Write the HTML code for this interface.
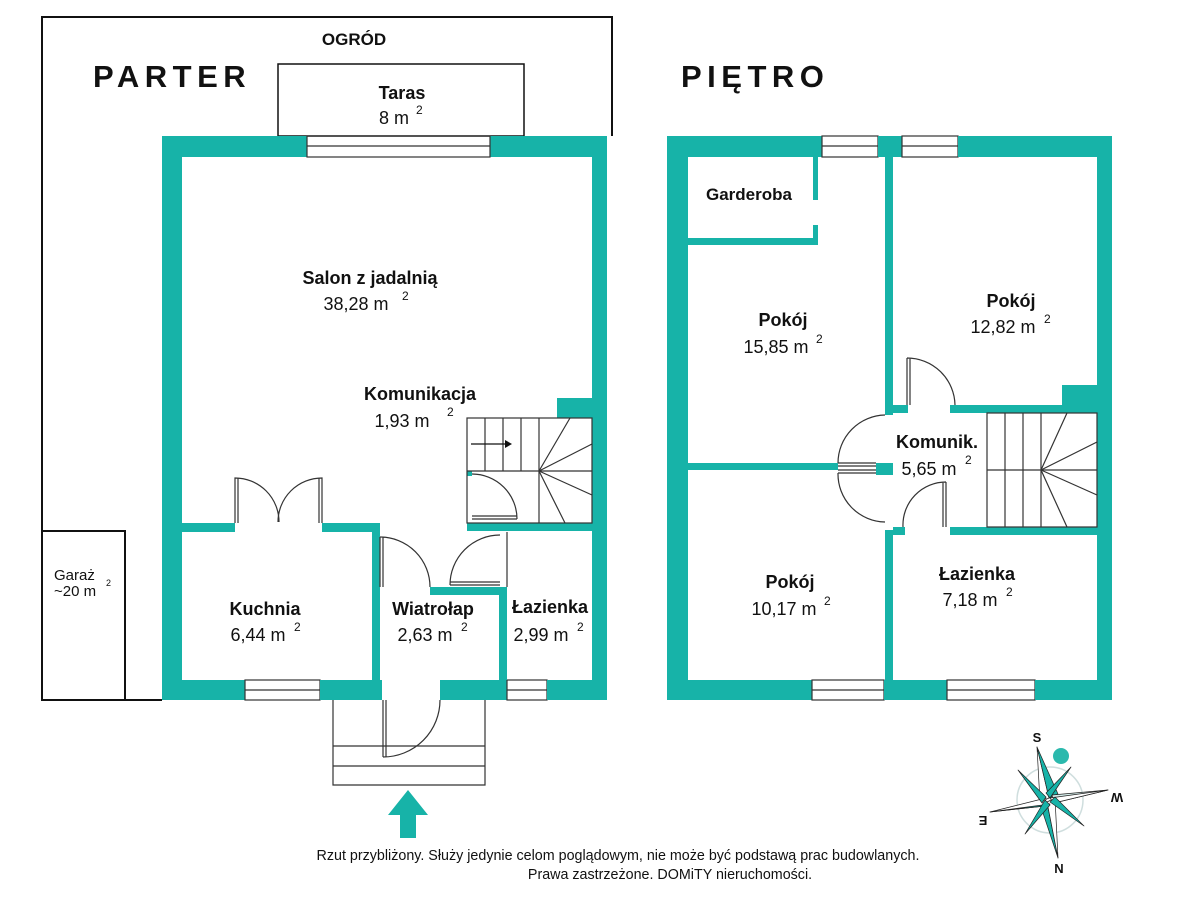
<!DOCTYPE html>
<html><head><meta charset="utf-8"><style>
html,body{margin:0;padding:0;background:#fff}
svg{display:block}
text{font-family:"Liberation Sans",sans-serif;fill:#111}
.b{font-weight:bold}
</style></head><body>
<svg width="1200" height="900" viewBox="0 0 1200 900" xmlns="http://www.w3.org/2000/svg">
<defs><style>.w{fill:#17b3a8}.l{fill:none;stroke:#333;stroke-width:1.2}.k{fill:none;stroke:#111;stroke-width:2}</style></defs>

<path class="k" d="M42 700 V17 H612 V136"/>
<rect class="k" x="42" y="531" width="83" height="169"/>
<line class="k" x1="125" y1="700" x2="162" y2="700"/>
<rect class="k" x="278" y="64" width="246" height="72" style="stroke-width:1.5"/>

<text x="354" y="45" font-size="17" class="b" text-anchor="middle">OGRÓD</text>
<text x="93" y="87" font-size="31" class="b" letter-spacing="5.5">PARTER</text>
<text x="681" y="87" font-size="31" class="b" letter-spacing="5.5">PIĘTRO</text>
<text x="402" y="99" font-size="18" class="b" text-anchor="middle">Taras</text>
<text x="394" y="124" font-size="18" text-anchor="middle">8 m</text><text x="416" y="114" font-size="12">2</text>
<text x="54" y="580" font-size="15">Garaż</text>
<text x="54" y="596" font-size="15">~20 m</text><text x="106" y="586" font-size="9">2</text>

<rect class="w" x="162" y="136" width="145" height="21"/>
<rect class="w" x="490" y="136" width="117" height="21"/>
<rect class="l" x="307" y="136" width="183" height="21"/><line class="l" x1="307" y1="146" x2="490" y2="146"/>
<rect class="w" x="162" y="136" width="20" height="564"/>
<rect class="w" x="592" y="136" width="15" height="564"/>
<rect class="w" x="162" y="680" width="83" height="20"/>
<rect class="l" x="245" y="680" width="75" height="20"/><line class="l" x1="245" y1="690" x2="320" y2="690"/>
<rect class="w" x="320" y="680" width="62" height="20"/>
<rect class="w" x="440" y="680" width="67" height="20"/>
<rect class="l" x="507" y="680" width="40" height="20"/><line class="l" x1="507" y1="690" x2="547" y2="690"/>
<rect class="w" x="547" y="680" width="50" height="20"/>
<rect class="w" x="182" y="523" width="53" height="9"/>
<rect class="w" x="322" y="523" width="58" height="9"/>
<rect class="w" x="372" y="523" width="8" height="157"/>
<path class="l" d="M235 523 V478 A44 44 0 0 1 279 522"/><line class="l" x1="238" y1="478" x2="238" y2="523"/>
<path class="l" d="M322 523 V478 A44 44 0 0 0 278 522"/><line class="l" x1="319" y1="478" x2="319" y2="523"/>
<rect class="w" x="430" y="587" width="77" height="8"/>
<rect class="w" x="499" y="587" width="8" height="93"/>
<path class="l" d="M380 537 V587 M383 537 V587 M380 537 A50 50 0 0 1 430 587"/>
<path class="l" d="M450 585 A50 50 0 0 1 500 535 M450 585 H500 M450 582 H500"/>
<line class="l" x1="507" y1="532" x2="507" y2="587"/>
<rect class="w" x="557" y="398" width="40" height="20"/>
<rect class="w" x="467" y="523" width="130" height="8"/>
<rect class="w" x="467" y="471" width="5" height="5"/>
<g class="l">
<rect x="467" y="418" width="125" height="105"/>
<line x1="485" y1="418" x2="485" y2="471"/><line x1="503" y1="418" x2="503" y2="471"/><line x1="521" y1="418" x2="521" y2="471"/><line x1="539" y1="418" x2="539" y2="523"/>
<line x1="467" y1="471" x2="592" y2="471"/>
<line x1="539" y1="471" x2="592" y2="444"/><line x1="539" y1="471" x2="570" y2="418"/><line x1="539" y1="471" x2="592" y2="495"/><line x1="539" y1="471" x2="565" y2="523"/>
<path d="M472 474 A45 45 0 0 1 517 519 M472 519 H517 M472 516 H517"/>
</g>
<line x1="471" y1="444" x2="505" y2="444" stroke="#111" stroke-width="1.2"/><path d="M505 440 L512 444 L505 448Z" fill="#111"/>
<g class="l">
<path d="M333 700 V785 H485 V700 M333 746 H485 M333 766 H485"/>
<path d="M383 700 V757 M386 700 V757 M383 757 A57 57 0 0 0 440 700"/>
</g>
<path class="w" d="M408 790 L428 815 L416 815 L416 838 L400 838 L400 815 L388 815Z"/>

<text x="370" y="284" font-size="18" class="b" text-anchor="middle">Salon z jadalnią</text>
<text x="356" y="310" font-size="18" text-anchor="middle">38,28 m</text><text x="402" y="300" font-size="12">2</text>
<text x="420" y="400" font-size="18" class="b" text-anchor="middle">Komunikacja</text>
<text x="402" y="427" font-size="18" text-anchor="middle">1,93 m</text><text x="447" y="416" font-size="12">2</text>
<text x="265" y="615" font-size="18" class="b" text-anchor="middle">Kuchnia</text>
<text x="258" y="641" font-size="18" text-anchor="middle">6,44 m</text><text x="294" y="631" font-size="12">2</text>
<text x="433" y="615" font-size="18" class="b" text-anchor="middle">Wiatrołap</text>
<text x="425" y="641" font-size="18" text-anchor="middle">2,63 m</text><text x="461" y="631" font-size="12">2</text>
<text x="550" y="613" font-size="18" class="b" text-anchor="middle">Łazienka</text>
<text x="541" y="641" font-size="18" text-anchor="middle">2,99 m</text><text x="577" y="631" font-size="12">2</text>

<rect class="w" x="667" y="136" width="155" height="21"/>
<rect class="l" x="822" y="136" width="56" height="21"/><line class="l" x1="822" y1="146" x2="878" y2="146"/>
<rect class="w" x="878" y="136" width="24" height="21"/>
<rect class="l" x="902" y="136" width="56" height="21"/><line class="l" x1="902" y1="146" x2="958" y2="146"/>
<rect class="w" x="958" y="136" width="154" height="21"/>
<rect class="w" x="667" y="136" width="21" height="564"/>
<rect class="w" x="1097" y="136" width="15" height="564"/>
<rect class="w" x="667" y="680" width="145" height="20"/>
<rect class="l" x="812" y="680" width="72" height="20"/><line class="l" x1="812" y1="690" x2="884" y2="690"/>
<rect class="w" x="884" y="680" width="63" height="20"/>
<rect class="l" x="947" y="680" width="88" height="20"/><line class="l" x1="947" y1="690" x2="1035" y2="690"/>
<rect class="w" x="1035" y="680" width="77" height="20"/>
<rect class="w" x="688" y="238" width="130" height="7"/>
<rect class="w" x="813" y="157" width="5" height="43"/>
<rect class="w" x="813" y="225" width="5" height="20"/>
<rect class="w" x="885" y="157" width="8" height="258"/>
<rect class="w" x="885" y="530" width="8" height="150"/>
<rect class="w" x="688" y="463" width="150" height="7"/>
<rect class="w" x="876" y="463" width="17" height="12"/>
<rect class="w" x="893" y="405" width="15" height="8"/>
<rect class="w" x="950" y="405" width="147" height="8"/>
<rect class="w" x="1062" y="385" width="35" height="22"/>
<rect class="w" x="893" y="527" width="12" height="8"/>
<rect class="w" x="950" y="527" width="147" height="8"/>
<g class="l">
<path d="M907 405 V358 M910 405 V358 M907 358 A48 48 0 0 1 955 405"/>
<path d="M838 463 A48 48 0 0 1 885 415 M838 463 H876 M838 466 H876"/>
<path d="M838 473 A48 48 0 0 0 885 522 M838 473 H876 M838 470 H876"/>
<path d="M946 482 V527 M943 482 V527 M946 482 A43 43 0 0 0 903 527"/>
<rect x="987" y="413" width="110" height="114"/>
<line x1="1005" y1="413" x2="1005" y2="527"/><line x1="1023" y1="413" x2="1023" y2="527"/><line x1="1041" y1="413" x2="1041" y2="527"/>
<line x1="987" y1="470" x2="1097" y2="470"/>
<line x1="1041" y1="470" x2="1067" y2="413"/><line x1="1041" y1="470" x2="1097" y2="442"/><line x1="1041" y1="470" x2="1097" y2="495"/><line x1="1041" y1="470" x2="1067" y2="527"/>
</g>
<text x="749" y="200" font-size="17" class="b" text-anchor="middle">Garderoba</text>
<text x="783" y="326" font-size="18" class="b" text-anchor="middle">Pokój</text>
<text x="776" y="353" font-size="18" text-anchor="middle">15,85 m</text><text x="816" y="343" font-size="12">2</text>
<text x="1011" y="307" font-size="18" class="b" text-anchor="middle">Pokój</text>
<text x="1003" y="333" font-size="18" text-anchor="middle">12,82 m</text><text x="1044" y="323" font-size="12">2</text>
<text x="937" y="448" font-size="18" class="b" text-anchor="middle">Komunik.</text>
<text x="929" y="475" font-size="18" text-anchor="middle">5,65 m</text><text x="965" y="464" font-size="12">2</text>
<text x="790" y="588" font-size="18" class="b" text-anchor="middle">Pokój</text>
<text x="784" y="615" font-size="18" text-anchor="middle">10,17 m</text><text x="824" y="605" font-size="12">2</text>
<text x="977" y="580" font-size="18" class="b" text-anchor="middle">Łazienka</text>
<text x="970" y="606" font-size="18" text-anchor="middle">7,18 m</text><text x="1006" y="596" font-size="12">2</text>

<!-- compass -->
<circle cx="1050" cy="800" r="33" fill="none" stroke="#cfdede" stroke-width="1.5"/>
<circle cx="1061" cy="756" r="8" fill="#2bb9ad"/>
<g stroke="#222" stroke-width="0.7" stroke-linejoin="round">
<path d="M1037 747 L1049 798 L1040 802Z" fill="#fff"/><path d="M1037 747 L1049 798 L1058 794Z" fill="#17b3a8"/>
<path d="M1058 858 L1047 802 L1040 804Z" fill="#17b3a8"/><path d="M1058 858 L1047 802 L1055 798Z" fill="#fff"/>
<path d="M990 812 L1046 798 L1045 806Z" fill="#fff"/><path d="M990 812 L1045 806 L1050 804Z" fill="#17b3a8"/>
<path d="M1108 790 L1052 795 L1054 803Z" fill="#d4ecea"/><path d="M1108 790 L1054 803 L1050 798Z" fill="#fff"/>
<path d="M1018 770 L1046 797 L1042 803Z" fill="#17b3a8"/>
<path d="M1071 767 L1050 798 L1046 793Z" fill="#17b3a8"/>
<path d="M1084 826 L1050 802 L1055 797Z" fill="#17b3a8"/>
<path d="M1025 834 L1045 800 L1050 805Z" fill="#17b3a8"/>
</g>
<text x="1037" y="742" font-size="13" class="b" text-anchor="middle">S</text>
<text x="1059" y="873" font-size="13" class="b" text-anchor="middle">N</text>
<text x="983" y="808" font-size="13" class="b" text-anchor="middle" transform="rotate(180,983,812)">E</text>
<text x="1117" y="785" font-size="13" class="b" text-anchor="middle" fill="#555" transform="rotate(180,1117,789)">W</text>

<text x="618" y="860" font-size="14.3" text-anchor="middle">Rzut przybliżony. Służy jedynie celom poglądowym, nie może być podstawą prac budowlanych.</text>
<text x="670" y="879" font-size="14.3" text-anchor="middle">Prawa zastrzeżone. DOMiTY nieruchomości.</text>
</svg>
</body></html>
